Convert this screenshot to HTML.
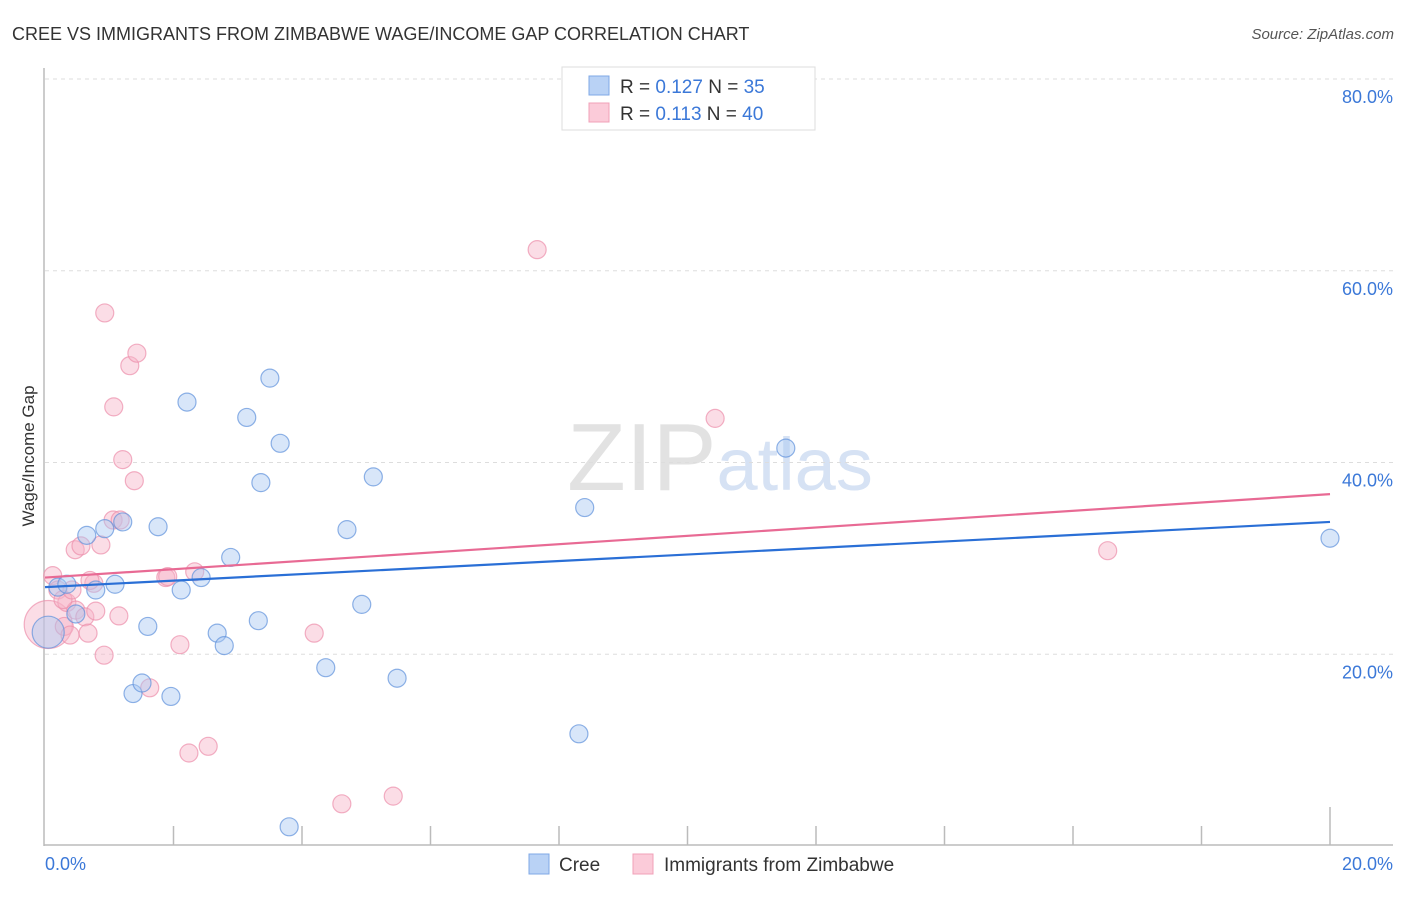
<!DOCTYPE html>
<html><head><meta charset="utf-8"><style>
body{margin:0;background:#fff;font-family:"Liberation Sans",sans-serif;}
svg text{font-family:"Liberation Sans",sans-serif;}
</style></head><body>
<svg id="chart" width="1406" height="892" viewBox="0 0 1406 892" xmlns="http://www.w3.org/2000/svg">
<text x="12" y="40" font-size="18" fill="#333">CREE VS IMMIGRANTS FROM ZIMBABWE WAGE/INCOME GAP CORRELATION CHART</text>
<text x="1394" y="39" font-size="15" fill="#555" font-style="italic" text-anchor="end">Source: ZipAtlas.com</text>
<text x="720" y="490" font-size="96" text-anchor="middle" fill="#ddd" font-family="Liberation Serif"><tspan fill="#e2e2e2">ZIP</tspan><tspan fill="#d6e2f4" font-family="Liberation Sans" font-size="74">atlas</tspan></text>
<text transform="translate(34,456) rotate(-90)" font-size="17" fill="#333" text-anchor="middle">Wage/Income Gap</text>
<g id="grid"></g>
<g id="axes"></g>
<g id="marks"></g>
<g>
<rect x="562" y="67" width="253" height="63" fill="#fff" stroke="#ddd"/>
<rect x="589" y="76" width="20" height="19" fill="#b9d2f5" stroke="#7fa8e6"/>
<rect x="589" y="103" width="20" height="19" fill="#fbcbd9" stroke="#f0a0b8"/>
<text x="620" y="93" font-size="19" fill="#333">R = <tspan fill="#3b78d8">0.127</tspan>   N = <tspan fill="#3b78d8"> 35</tspan></text>
<text x="620" y="120" font-size="19" fill="#333">R =  <tspan fill="#3b78d8">0.113</tspan>   N = <tspan fill="#3b78d8">40</tspan></text>
</g>
<g>
<rect x="529" y="854" width="20" height="20" fill="#b9d2f5" stroke="#7fa8e6"/>
<text x="559" y="871" font-size="19" fill="#333">Cree</text>
<rect x="633" y="854" width="20" height="20" fill="#fbcbd9" stroke="#f0a0b8"/>
<text x="664" y="871" font-size="19" fill="#333">Immigrants from Zimbabwe</text>
</g>
</svg>
<script>
const xTicks=[0,20];
const xTickLabels=["0.0%","20.0%"];
const yTicks=[20,40,60,80];
const yTickLabels=["20.0%","40.0%","60.0%","80.0%"];
const creeX=[0.05,0.20,0.34,0.48,0.65,0.79,0.93,1.09,1.21,1.37,1.51,1.60,1.76,1.96,2.12,2.21,2.43,2.68,2.79,2.89,3.14,3.32,3.36,3.50,3.66,3.80,4.37,4.70,4.93,5.11,5.48,8.31,8.40,11.53,20.0];
const creeY=[22.3,27.0,27.3,24.2,32.4,26.7,33.1,27.3,33.8,15.9,17.0,22.9,33.3,15.6,26.7,46.3,28.0,22.2,20.9,30.1,44.7,23.5,37.9,48.8,42.0,2.0,18.6,33.0,25.2,38.5,17.5,11.7,35.3,41.5,32.1];
const creeSize=[2,1,1,1,1,1,1,1,1,1,1,1,1,1,1,1,1,1,1,1,1,1,1,1,1,1,1,1,1,1,1,1,1,1,1];
const zimX=[0.05,0.12,0.20,0.30,0.34,0.39,0.47,0.48,0.56,0.62,0.67,0.76,0.79,0.87,0.92,0.93,1.06,1.07,1.15,1.21,1.32,1.39,1.43,1.63,1.88,1.91,2.10,2.24,2.33,2.54,4.19,4.62,5.42,7.66,10.43,16.54,0.28,1.17,0.70,0.42];
const zimY=[23.1,28.2,26.7,22.9,25.4,22.0,30.9,24.6,31.3,23.9,22.2,27.4,24.5,31.4,19.9,55.6,34.0,45.8,24.0,40.3,50.1,38.1,51.4,16.5,28.0,28.1,21.0,9.7,28.6,10.4,22.2,4.4,5.2,62.2,44.6,30.8,25.7,34.0,27.7,26.7];
const zimSize=[3,1,1,1,1,1,1,1,1,1,1,1,1,1,1,1,1,1,1,1,1,1,1,1,1,1,1,1,1,1,1,1,1,1,1,1,1,1,1,1];
const creeTrend=[27.0,33.8];
const zimTrend=[28.0,36.7];

const NS="http://www.w3.org/2000/svg";
const X0=45,X1=1330,Y0=846,PXY=9.5875;
function sx(v){return X0+(X1-X0)*v/20;}
function sy(v){return Y0-v*PXY;}
function mk(tag,attrs,parent){const e=document.createElementNS(NS,tag);for(const k in attrs)e.setAttribute(k,attrs[k]);parent.appendChild(e);return e;}
const grid=document.getElementById('grid'),axes=document.getElementById('axes'),marks=document.getElementById('marks');
yTicks.forEach((t,i)=>{
  const l=mk('line',{x1:45,x2:1393,y1:sy(t),y2:sy(t),stroke:'#ddd','stroke-dasharray':'4,4'},grid);
  
  
  const tx=mk('text',{x:1393,y:sy(t)+24,'font-size':18,fill:'#3b78d8','text-anchor':'end'},axes);
  tx.textContent=yTickLabels[i];
  
  
});
const ax=mk('line',{x1:44,x2:44,y1:68,y2:846,stroke:'#bbb','stroke-width':1.5},axes);


const bx=mk('line',{x1:44,x2:1393,y1:845,y2:845,stroke:'#bbb','stroke-width':1.5},axes);


for(let i=1;i<=10;i++){
  const x=sx(i*2);
  const tk=mk('line',{x1:x,x2:x,y1:i==10?807:826,y2:845,stroke:'#bbb','stroke-width':1.5},axes);
  
  
}
xTicks.forEach((t,i)=>{
  const tx=mk('text',{x:t==0?45:1393,y:870,'font-size':18,fill:'#3b78d8','text-anchor':t==0?'start':'end'},axes);
  tx.textContent=xTickLabels[i];
  
  
});
function pts(xs,ys,ss,fill,stroke,name){
  xs.forEach((x,i)=>{
    const r=ss[i]==3?24:ss[i]==2?16:9;
    const c=mk('circle',{cx:sx(x),cy:sy(ys[i]),r:r,fill:fill,'fill-opacity':0.45,stroke:stroke,'stroke-opacity':0.7,'stroke-width':1.2},marks);
    
    
  });
}
pts(zimX,zimY,zimSize,'#f7b3c7','#ec8fab','zimbabwe-point');
pts(creeX,creeY,creeSize,'#a9c8f1','#5f92dc','cree-point');
const t1=mk('line',{x1:sx(0),y1:sy(zimTrend[0]),x2:sx(20),y2:sy(zimTrend[1]),stroke:'#e86a94','stroke-width':2.2},marks);


const t2=mk('line',{x1:sx(0),y1:sy(creeTrend[0]),x2:sx(20),y2:sy(creeTrend[1]),stroke:'#2a6fd6','stroke-width':2.2},marks);


</script>
</body></html>
